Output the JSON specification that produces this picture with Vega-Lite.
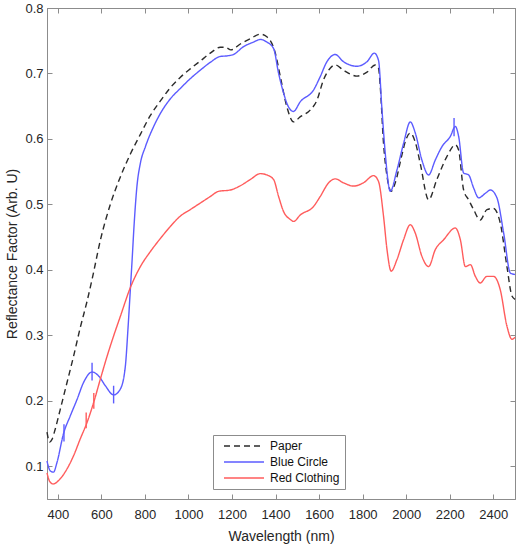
{
  "$schema": "https://vega.github.io/schema/vega-lite/v6.json",
  "width": 468,
  "height": 491,
  "autosize": {"type": "none"},
  "padding": {"left": 47, "top": 8, "right": 5, "bottom": 45},
  "background": "white",
  "config": {
    "font": "Liberation Sans",
    "view": {"stroke": "#8c8c8c", "strokeWidth": 1},
    "axis": {
      "domainColor": "#8c8c8c",
      "tickColor": "#8c8c8c",
      "tickSize": -5,
      "labelColor": "#262626",
      "titleColor": "#262626",
      "labelFont": "Liberation Sans",
      "titleFont": "Liberation Sans",
      "labelFontSize": 13,
      "titleFontSize": 14,
      "titleFontWeight": "normal",
      "grid": false
    }
  },
  "datasets": {
    "spectra": [
      {"s": "Paper", "nm": 350, "v": 0.152},
      {"s": "Paper", "nm": 362, "v": 0.137},
      {"s": "Paper", "nm": 373, "v": 0.141},
      {"s": "Paper", "nm": 388, "v": 0.157},
      {"s": "Paper", "nm": 411, "v": 0.187},
      {"s": "Paper", "nm": 442, "v": 0.228},
      {"s": "Paper", "nm": 472, "v": 0.268},
      {"s": "Paper", "nm": 503, "v": 0.312},
      {"s": "Paper", "nm": 534, "v": 0.352},
      {"s": "Paper", "nm": 560, "v": 0.390},
      {"s": "Paper", "nm": 595, "v": 0.445},
      {"s": "Paper", "nm": 641, "v": 0.500},
      {"s": "Paper", "nm": 687, "v": 0.542},
      {"s": "Paper", "nm": 733, "v": 0.577},
      {"s": "Paper", "nm": 779, "v": 0.607},
      {"s": "Paper", "nm": 825, "v": 0.636},
      {"s": "Paper", "nm": 871, "v": 0.658},
      {"s": "Paper", "nm": 916, "v": 0.678},
      {"s": "Paper", "nm": 962, "v": 0.694},
      {"s": "Paper", "nm": 1008, "v": 0.707},
      {"s": "Paper", "nm": 1054, "v": 0.719},
      {"s": "Paper", "nm": 1100, "v": 0.731},
      {"s": "Paper", "nm": 1146, "v": 0.740},
      {"s": "Paper", "nm": 1170, "v": 0.740},
      {"s": "Paper", "nm": 1195, "v": 0.736},
      {"s": "Paper", "nm": 1238, "v": 0.745},
      {"s": "Paper", "nm": 1284, "v": 0.753},
      {"s": "Paper", "nm": 1330, "v": 0.760},
      {"s": "Paper", "nm": 1360, "v": 0.756},
      {"s": "Paper", "nm": 1399, "v": 0.731},
      {"s": "Paper", "nm": 1422, "v": 0.695},
      {"s": "Paper", "nm": 1452, "v": 0.649},
      {"s": "Paper", "nm": 1482, "v": 0.626},
      {"s": "Paper", "nm": 1514, "v": 0.634},
      {"s": "Paper", "nm": 1559, "v": 0.644},
      {"s": "Paper", "nm": 1590, "v": 0.659},
      {"s": "Paper", "nm": 1620, "v": 0.690},
      {"s": "Paper", "nm": 1651, "v": 0.708},
      {"s": "Paper", "nm": 1674, "v": 0.713},
      {"s": "Paper", "nm": 1712, "v": 0.705},
      {"s": "Paper", "nm": 1774, "v": 0.696},
      {"s": "Paper", "nm": 1820, "v": 0.702},
      {"s": "Paper", "nm": 1858, "v": 0.713},
      {"s": "Paper", "nm": 1873, "v": 0.708},
      {"s": "Paper", "nm": 1881, "v": 0.680},
      {"s": "Paper", "nm": 1896, "v": 0.593},
      {"s": "Paper", "nm": 1912, "v": 0.543},
      {"s": "Paper", "nm": 1931, "v": 0.520},
      {"s": "Paper", "nm": 1950, "v": 0.533},
      {"s": "Paper", "nm": 1980, "v": 0.575},
      {"s": "Paper", "nm": 1998, "v": 0.598},
      {"s": "Paper", "nm": 2019, "v": 0.609},
      {"s": "Paper", "nm": 2042, "v": 0.595},
      {"s": "Paper", "nm": 2065, "v": 0.562},
      {"s": "Paper", "nm": 2103, "v": 0.507},
      {"s": "Paper", "nm": 2141, "v": 0.538},
      {"s": "Paper", "nm": 2187, "v": 0.573},
      {"s": "Paper", "nm": 2226, "v": 0.591},
      {"s": "Paper", "nm": 2241, "v": 0.583},
      {"s": "Paper", "nm": 2264, "v": 0.522},
      {"s": "Paper", "nm": 2287, "v": 0.507},
      {"s": "Paper", "nm": 2310, "v": 0.492},
      {"s": "Paper", "nm": 2340, "v": 0.476},
      {"s": "Paper", "nm": 2371, "v": 0.492},
      {"s": "Paper", "nm": 2400, "v": 0.494},
      {"s": "Paper", "nm": 2432, "v": 0.472},
      {"s": "Paper", "nm": 2463, "v": 0.405},
      {"s": "Paper", "nm": 2486, "v": 0.360},
      {"s": "Paper", "nm": 2500, "v": 0.355},

      {"s": "Blue Circle", "nm": 350, "v": 0.108},
      {"s": "Blue Circle", "nm": 365, "v": 0.093},
      {"s": "Blue Circle", "nm": 380, "v": 0.091},
      {"s": "Blue Circle", "nm": 396, "v": 0.106},
      {"s": "Blue Circle", "nm": 426, "v": 0.150},
      {"s": "Blue Circle", "nm": 457, "v": 0.177},
      {"s": "Blue Circle", "nm": 488, "v": 0.202},
      {"s": "Blue Circle", "nm": 518, "v": 0.228},
      {"s": "Blue Circle", "nm": 557, "v": 0.244},
      {"s": "Blue Circle", "nm": 587, "v": 0.238},
      {"s": "Blue Circle", "nm": 618, "v": 0.223},
      {"s": "Blue Circle", "nm": 656, "v": 0.209},
      {"s": "Blue Circle", "nm": 687, "v": 0.218},
      {"s": "Blue Circle", "nm": 710, "v": 0.253},
      {"s": "Blue Circle", "nm": 722, "v": 0.310},
      {"s": "Blue Circle", "nm": 732, "v": 0.365},
      {"s": "Blue Circle", "nm": 741, "v": 0.415},
      {"s": "Blue Circle", "nm": 750, "v": 0.468},
      {"s": "Blue Circle", "nm": 763, "v": 0.527},
      {"s": "Blue Circle", "nm": 779, "v": 0.563},
      {"s": "Blue Circle", "nm": 802, "v": 0.588},
      {"s": "Blue Circle", "nm": 840, "v": 0.619},
      {"s": "Blue Circle", "nm": 871, "v": 0.639},
      {"s": "Blue Circle", "nm": 916, "v": 0.661},
      {"s": "Blue Circle", "nm": 962, "v": 0.677},
      {"s": "Blue Circle", "nm": 1008, "v": 0.692},
      {"s": "Blue Circle", "nm": 1054, "v": 0.705},
      {"s": "Blue Circle", "nm": 1100, "v": 0.717},
      {"s": "Blue Circle", "nm": 1146, "v": 0.726},
      {"s": "Blue Circle", "nm": 1180, "v": 0.727},
      {"s": "Blue Circle", "nm": 1207, "v": 0.729},
      {"s": "Blue Circle", "nm": 1253, "v": 0.741},
      {"s": "Blue Circle", "nm": 1299, "v": 0.748},
      {"s": "Blue Circle", "nm": 1330, "v": 0.752},
      {"s": "Blue Circle", "nm": 1360, "v": 0.748},
      {"s": "Blue Circle", "nm": 1391, "v": 0.738},
      {"s": "Blue Circle", "nm": 1414, "v": 0.700},
      {"s": "Blue Circle", "nm": 1437, "v": 0.670},
      {"s": "Blue Circle", "nm": 1455, "v": 0.652},
      {"s": "Blue Circle", "nm": 1482, "v": 0.642},
      {"s": "Blue Circle", "nm": 1514, "v": 0.657},
      {"s": "Blue Circle", "nm": 1575, "v": 0.675},
      {"s": "Blue Circle", "nm": 1605, "v": 0.695},
      {"s": "Blue Circle", "nm": 1636, "v": 0.718},
      {"s": "Blue Circle", "nm": 1674, "v": 0.729},
      {"s": "Blue Circle", "nm": 1712, "v": 0.718},
      {"s": "Blue Circle", "nm": 1774, "v": 0.711},
      {"s": "Blue Circle", "nm": 1820, "v": 0.718},
      {"s": "Blue Circle", "nm": 1854, "v": 0.731},
      {"s": "Blue Circle", "nm": 1873, "v": 0.720},
      {"s": "Blue Circle", "nm": 1889, "v": 0.644},
      {"s": "Blue Circle", "nm": 1904, "v": 0.578},
      {"s": "Blue Circle", "nm": 1927, "v": 0.520},
      {"s": "Blue Circle", "nm": 1958, "v": 0.553},
      {"s": "Blue Circle", "nm": 1988, "v": 0.593},
      {"s": "Blue Circle", "nm": 2019, "v": 0.626},
      {"s": "Blue Circle", "nm": 2042, "v": 0.609},
      {"s": "Blue Circle", "nm": 2072, "v": 0.568},
      {"s": "Blue Circle", "nm": 2103, "v": 0.545},
      {"s": "Blue Circle", "nm": 2134, "v": 0.568},
      {"s": "Blue Circle", "nm": 2164, "v": 0.588},
      {"s": "Blue Circle", "nm": 2203, "v": 0.604},
      {"s": "Blue Circle", "nm": 2226, "v": 0.619},
      {"s": "Blue Circle", "nm": 2241, "v": 0.604},
      {"s": "Blue Circle", "nm": 2264, "v": 0.548},
      {"s": "Blue Circle", "nm": 2287, "v": 0.545},
      {"s": "Blue Circle", "nm": 2310, "v": 0.525},
      {"s": "Blue Circle", "nm": 2333, "v": 0.510},
      {"s": "Blue Circle", "nm": 2364, "v": 0.517},
      {"s": "Blue Circle", "nm": 2387, "v": 0.522},
      {"s": "Blue Circle", "nm": 2417, "v": 0.510},
      {"s": "Blue Circle", "nm": 2448, "v": 0.456},
      {"s": "Blue Circle", "nm": 2479, "v": 0.395},
      {"s": "Blue Circle", "nm": 2500, "v": 0.393},

      {"s": "Red Clothing", "nm": 350, "v": 0.090},
      {"s": "Red Clothing", "nm": 362, "v": 0.077},
      {"s": "Red Clothing", "nm": 378, "v": 0.073},
      {"s": "Red Clothing", "nm": 411, "v": 0.081},
      {"s": "Red Clothing", "nm": 442, "v": 0.096},
      {"s": "Red Clothing", "nm": 472, "v": 0.116},
      {"s": "Red Clothing", "nm": 503, "v": 0.142},
      {"s": "Red Clothing", "nm": 534, "v": 0.167},
      {"s": "Red Clothing", "nm": 564, "v": 0.197},
      {"s": "Red Clothing", "nm": 595, "v": 0.233},
      {"s": "Red Clothing", "nm": 626, "v": 0.268},
      {"s": "Red Clothing", "nm": 656, "v": 0.299},
      {"s": "Red Clothing", "nm": 687, "v": 0.329},
      {"s": "Red Clothing", "nm": 733, "v": 0.373},
      {"s": "Red Clothing", "nm": 779, "v": 0.405},
      {"s": "Red Clothing", "nm": 825, "v": 0.428},
      {"s": "Red Clothing", "nm": 871, "v": 0.448},
      {"s": "Red Clothing", "nm": 916, "v": 0.466},
      {"s": "Red Clothing", "nm": 962, "v": 0.482},
      {"s": "Red Clothing", "nm": 1008, "v": 0.492},
      {"s": "Red Clothing", "nm": 1054, "v": 0.502},
      {"s": "Red Clothing", "nm": 1100, "v": 0.512},
      {"s": "Red Clothing", "nm": 1138, "v": 0.520},
      {"s": "Red Clothing", "nm": 1192, "v": 0.522},
      {"s": "Red Clothing", "nm": 1230, "v": 0.527},
      {"s": "Red Clothing", "nm": 1284, "v": 0.538},
      {"s": "Red Clothing", "nm": 1330, "v": 0.547},
      {"s": "Red Clothing", "nm": 1360, "v": 0.545},
      {"s": "Red Clothing", "nm": 1391, "v": 0.538},
      {"s": "Red Clothing", "nm": 1414, "v": 0.512},
      {"s": "Red Clothing", "nm": 1437, "v": 0.489},
      {"s": "Red Clothing", "nm": 1468, "v": 0.477},
      {"s": "Red Clothing", "nm": 1483, "v": 0.474},
      {"s": "Red Clothing", "nm": 1514, "v": 0.484},
      {"s": "Red Clothing", "nm": 1575, "v": 0.497},
      {"s": "Red Clothing", "nm": 1605, "v": 0.512},
      {"s": "Red Clothing", "nm": 1644, "v": 0.533},
      {"s": "Red Clothing", "nm": 1674, "v": 0.539},
      {"s": "Red Clothing", "nm": 1712, "v": 0.533},
      {"s": "Red Clothing", "nm": 1758, "v": 0.528},
      {"s": "Red Clothing", "nm": 1804, "v": 0.533},
      {"s": "Red Clothing", "nm": 1850, "v": 0.544},
      {"s": "Red Clothing", "nm": 1873, "v": 0.535},
      {"s": "Red Clothing", "nm": 1896, "v": 0.482},
      {"s": "Red Clothing", "nm": 1912, "v": 0.431},
      {"s": "Red Clothing", "nm": 1931, "v": 0.398},
      {"s": "Red Clothing", "nm": 1958, "v": 0.416},
      {"s": "Red Clothing", "nm": 1988, "v": 0.446},
      {"s": "Red Clothing", "nm": 2019, "v": 0.469},
      {"s": "Red Clothing", "nm": 2042, "v": 0.456},
      {"s": "Red Clothing", "nm": 2072, "v": 0.421},
      {"s": "Red Clothing", "nm": 2103, "v": 0.405},
      {"s": "Red Clothing", "nm": 2134, "v": 0.431},
      {"s": "Red Clothing", "nm": 2172, "v": 0.446},
      {"s": "Red Clothing", "nm": 2226, "v": 0.464},
      {"s": "Red Clothing", "nm": 2249, "v": 0.446},
      {"s": "Red Clothing", "nm": 2272, "v": 0.405},
      {"s": "Red Clothing", "nm": 2295, "v": 0.408},
      {"s": "Red Clothing", "nm": 2318, "v": 0.390},
      {"s": "Red Clothing", "nm": 2340, "v": 0.380},
      {"s": "Red Clothing", "nm": 2371, "v": 0.390},
      {"s": "Red Clothing", "nm": 2402, "v": 0.390},
      {"s": "Red Clothing", "nm": 2432, "v": 0.370},
      {"s": "Red Clothing", "nm": 2463, "v": 0.314},
      {"s": "Red Clothing", "nm": 2486, "v": 0.294},
      {"s": "Red Clothing", "nm": 2500, "v": 0.297}
    ],
    "errs": [
      {"s": "Blue Circle", "nm": 428, "lo": 0.138, "hi": 0.164},
      {"s": "Blue Circle", "nm": 557, "lo": 0.231, "hi": 0.258},
      {"s": "Blue Circle", "nm": 656, "lo": 0.196, "hi": 0.223},
      {"s": "Blue Circle", "nm": 2220, "lo": 0.604, "hi": 0.632},
      {"s": "Red Clothing", "nm": 530, "lo": 0.158, "hi": 0.182},
      {"s": "Red Clothing", "nm": 565, "lo": 0.188, "hi": 0.212}
    ]
  },
  "layer": [
    {
      "data": {"name": "spectra"},
      "mark": {"type": "line", "strokeWidth": 1.4, "interpolate": "monotone"},
      "encoding": {
        "x": {
          "field": "nm", "type": "quantitative",
          "scale": {"domain": [350, 2500], "nice": false, "zero": false},
          "axis": {"orient": "bottom", "values": [400, 600, 800, 1000, 1200, 1400, 1600, 1800, 2000, 2200, 2400], "format": "d", "title": "Wavelength (nm)", "labelPadding": 14, "titlePadding": 8}
        },
        "y": {
          "field": "v", "type": "quantitative",
          "scale": {"domain": [0.05, 0.8], "nice": false, "zero": false},
          "axis": {"orient": "left", "values": [0.1, 0.2, 0.3, 0.4, 0.5, 0.6, 0.7, 0.8], "format": ".1f", "title": "Reflectance Factor (Arb. U)", "labelPadding": 9, "titlePadding": 5}
        },
        "color": {
          "field": "s", "type": "nominal",
          "scale": {"domain": ["Paper", "Blue Circle", "Red Clothing"], "range": ["#2b2b2b", "#5c5cff", "#ff5c5c"]},
          "legend": {
            "title": null, "orient": "none", "legendX": 166, "legendY": 427,
            "symbolType": "M0,0H10", "symbolSize": 64, "symbolStrokeWidth": 1.5,
            "labelFontSize": 12, "labelFont": "Liberation Sans", "labelColor": "#111",
            "strokeColor": "#8c8c8c", "fillColor": "white", "padding": 5,
            "rowPadding": 4, "labelOffset": 40
          }
        },
        "strokeDash": {
          "field": "s", "type": "nominal",
          "scale": {"domain": ["Paper", "Blue Circle", "Red Clothing"], "range": [[6, 4], [1, 0], [1, 0]]},
          "legend": null
        },
        "order": {"field": "nm", "type": "quantitative"}
      }
    },
    {
      "data": {"name": "errs"},
      "mark": {"type": "rule", "strokeWidth": 1.4},
      "encoding": {
        "x": {"field": "nm", "type": "quantitative", "axis": null},
        "y": {"field": "lo", "type": "quantitative", "axis": null},
        "y2": {"field": "hi"},
        "color": {"field": "s", "type": "nominal", "legend": null}
      }
    },
    {
      "data": {"name": "errs"},
      "mark": {"type": "rule", "opacity": 0},
      "encoding": {
        "x": {"field": "nm", "type": "quantitative", "axis": {"orient": "top", "values": [400, 600, 800, 1000, 1200, 1400, 1600, 1800, 2000, 2200, 2400], "labels": false, "title": null}},
        "y": {"field": "lo", "type": "quantitative", "axis": {"orient": "right", "values": [0.1, 0.2, 0.3, 0.4, 0.5, 0.6, 0.7, 0.8], "labels": false, "title": null}}
      }
    }
  ],
  "resolve": {"axis": {"x": "independent", "y": "independent"}}
}
